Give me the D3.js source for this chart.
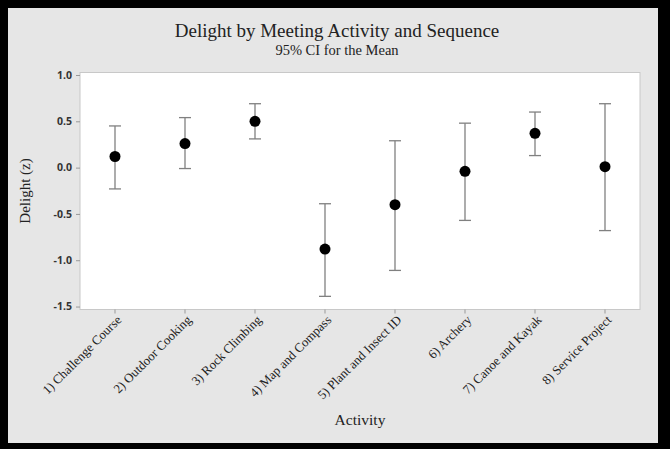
<!DOCTYPE html>
<html>
<head>
<meta charset="utf-8">
<script src="https://cdn.jsdelivr.net/npm/d3@7"></script>
<style>
  body { margin: 0; background: #000; }
  svg { display: block; }
</style>
</head>
<body>
<div id="chart"></div>
<script>
// data
const activities = [
  "1) Challenge Course", "2) Outdoor Cooking", "3) Rock Climbing", "4) Map and Compass",
  "5) Plant and Insect ID", "6) Archery", "7) Canoe and Kayak", "8) Service Project"
];
const means = [0.12, 0.26, 0.50, -0.88, -0.40, -0.04, 0.37, 0.01];
const upper = [0.45, 0.54, 0.69, -0.39, 0.29, 0.48, 0.60, 0.69];
const lower = [-0.23, -0.01, 0.31, -1.39, -1.11, -0.57, 0.13, -0.68];
const yTicks = [1.0, 0.5, 0.0, -0.5, -1.0, -1.5];

const width = 670, height = 449;
const margin = {top: 72.5, right: 30, bottom: 139.5, left: 80};

const svg = d3.select("#chart")
    .append("svg")
    .attr("width", width)
    .attr("height", height);

// black frame + gray panel
svg.append("rect").attr("width", width).attr("height", height).attr("fill", "#000");
svg.append("rect")
    .attr("x", 8).attr("y", 8)
    .attr("width", 650).attr("height", 435)
    .attr("fill", "#e6e6e6");

const x = d3.scaleBand()
    .domain(activities)
    .range([margin.left, width - margin.right]);

const y = d3.scaleLinear()
    .domain([1.027, -1.532])
    .range([margin.top, height - margin.bottom]);

// plot area
svg.append("rect")
    .attr("x", margin.left)
    .attr("y", margin.top)
    .attr("width", width - margin.left - margin.right)
    .attr("height", height - margin.top - margin.bottom)
    .attr("fill", "#fff")
    .attr("stroke", "#c8c8c8");

// y axis
const yAxis = svg.append("g")
    .attr("transform", `translate(${margin.left},0)`)
    .call(d3.axisLeft(y).tickValues(yTicks).tickFormat(d3.format(".1f")).tickSize(4).tickSizeOuter(0));
yAxis.select(".domain").remove();
yAxis.selectAll("line").attr("stroke", "#999");
yAxis.selectAll("text")
    .attr("font-family", "'Open Sans', 'DejaVu Sans', sans-serif")
    .attr("font-weight", "bold")
    .attr("font-size", 10.5)
    .attr("fill", "#333")
    .attr("dx", -1)
    .text(d => d3.format(".1f")(d).replace("−", "-"));

// x axis
const xAxis = svg.append("g")
    .attr("transform", `translate(0,${height - margin.bottom})`)
    .call(d3.axisBottom(x).tickSize(4).tickSizeOuter(0));
xAxis.select(".domain").remove();
xAxis.selectAll("line").attr("stroke", "#999");
xAxis.selectAll("text")
    .attr("font-family", "'Liberation Serif', 'Times New Roman', serif")
    .attr("font-size", 12.8)
    .attr("fill", "#222")
    .attr("text-anchor", "end")
    .attr("transform", "translate(4,8) rotate(-45)")
    .attr("dy", "0.35em")
    .attr("y", 0);

// error bars
const bars = svg.append("g")
    .selectAll("g")
    .data(activities)
    .join("g")
    .attr("stroke", "#808080")
    .attr("stroke-width", 1.3);

bars.append("line")
    .attr("x1", d => x(d) + x.bandwidth() / 2)
    .attr("x2", d => x(d) + x.bandwidth() / 2)
    .attr("y1", (d, i) => y(upper[i]))
    .attr("y2", (d, i) => y(lower[i]));
bars.append("line")
    .attr("x1", d => x(d) + x.bandwidth() / 2 - 6)
    .attr("x2", d => x(d) + x.bandwidth() / 2 + 6)
    .attr("y1", (d, i) => y(upper[i]))
    .attr("y2", (d, i) => y(upper[i]));
bars.append("line")
    .attr("x1", d => x(d) + x.bandwidth() / 2 - 6)
    .attr("x2", d => x(d) + x.bandwidth() / 2 + 6)
    .attr("y1", (d, i) => y(lower[i]))
    .attr("y2", (d, i) => y(lower[i]));

// means
svg.append("g")
    .selectAll("circle")
    .data(activities)
    .join("circle")
    .attr("cx", d => x(d) + x.bandwidth() / 2)
    .attr("cy", (d, i) => y(means[i]))
    .attr("r", 5.5)
    .attr("fill", "#000");

// titles
const serif = "'Liberation Serif', 'Times New Roman', serif";
svg.append("text")
    .attr("x", 337).attr("y", 37)
    .attr("text-anchor", "middle")
    .attr("font-family", serif)
    .attr("font-size", 19)
    .attr("fill", "#222")
    .text("Delight by Meeting Activity and Sequence");
svg.append("text")
    .attr("x", 337).attr("y", 55)
    .attr("text-anchor", "middle")
    .attr("font-family", serif)
    .attr("font-size", 14.5)
    .attr("fill", "#222")
    .text("95% CI for the Mean");

svg.append("text")
    .attr("x", (margin.left + width - margin.right) / 2)
    .attr("y", 425)
    .attr("text-anchor", "middle")
    .attr("font-family", serif)
    .attr("font-size", 15.5)
    .attr("fill", "#222")
    .text("Activity");

svg.append("text")
    .attr("transform", `translate(30,${(margin.top + height - margin.bottom) / 2}) rotate(-90)`)
    .attr("text-anchor", "middle")
    .attr("font-family", serif)
    .attr("font-size", 15)
    .attr("fill", "#222")
    .text("Delight (z)");
</script>
</body>
</html>
